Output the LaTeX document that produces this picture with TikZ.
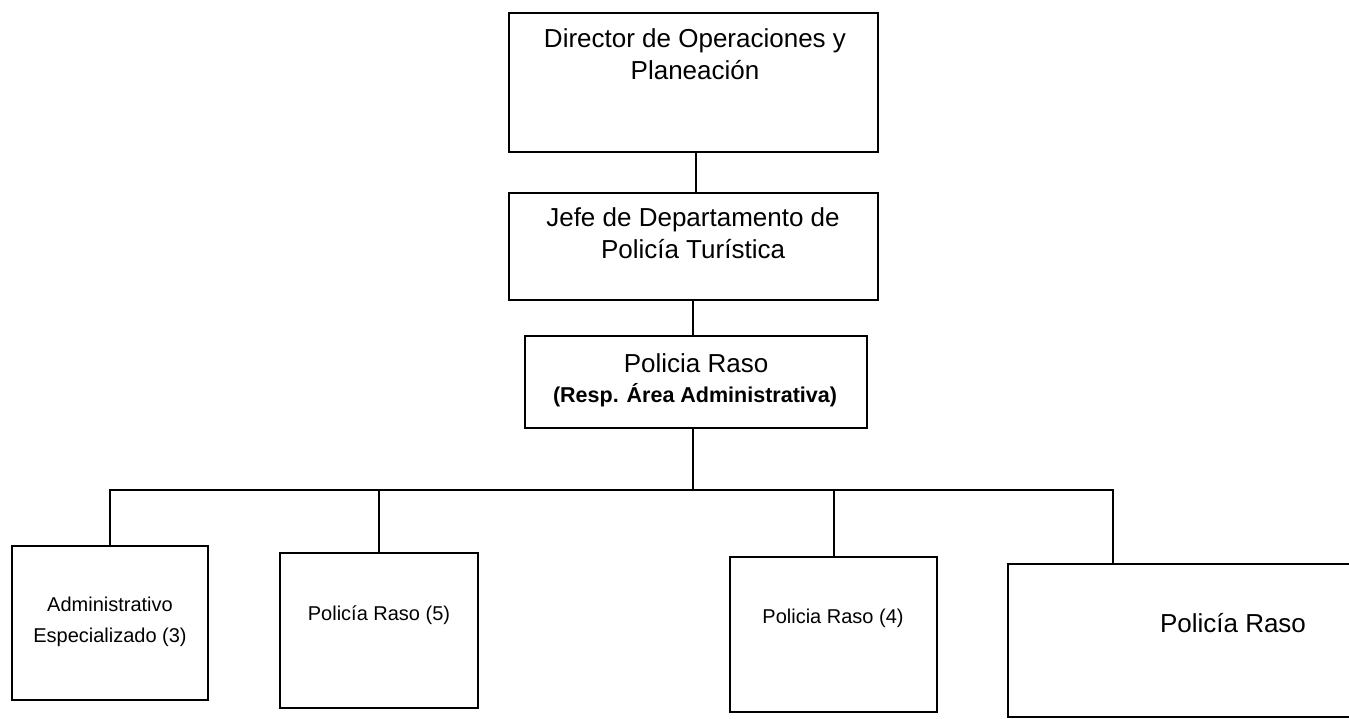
\documentclass[tikz,border=0pt]{standalone}
\usepackage{fontspec}
\setmainfont{Liberation Sans}
\begin{document}
\begin{tikzpicture}[x=1pt,y=-1pt,
  box/.style={draw=black,line width=2pt,rectangle,inner sep=0pt},
  conn/.style={draw=black,line width=2pt},
  big/.style={font=\fontsize{26}{32}\selectfont,align=center,inner sep=0pt},
  small/.style={font=\fontsize{20}{31}\selectfont,align=center,inner sep=0pt}]
\useasboundingbox (0,0) rectangle (1349,719);
\clip (0,0) rectangle (1349,719);
\fill[white] (0,0) rectangle (1349,719);
% boxes
\node[box,minimum width=369pt,minimum height=139pt] (dir) at (693.5,82.5) {};
\node[box,minimum width=369pt,minimum height=107pt] (jefe) at (693.5,246.5) {};
\node[box,minimum width=342pt,minimum height=92pt] (resp) at (696,382) {};
\node[box,minimum width=196pt,minimum height=154pt] (adm) at (110,623) {};
\node[box,minimum width=198pt,minimum height=155pt] (p5) at (379,630.5) {};
\node[box,minimum width=207pt,minimum height=155pt] (p4) at (833.5,634.5) {};
\node[box,minimum width=450pt,minimum height=153pt] (p1) at (1233,640.5) {};
% texts
\node[big] (tdir) at (695,54) {Director de Operaciones y\\Planeación};
\node[big] (tjefe) at (693,233) {Jefe de Departamento de\\Policía Turística};
\node[big,anchor=base] (tresp1) at (696,372) {Policia Raso};
\node[inner sep=0pt,anchor=base,font=\bfseries\fontsize{21.5}{26}\selectfont] (tresp2) at (695,402) {(Resp. Área Administrativa)};
\node[small] (tadm) at (110,622) {Administrativo\\Especializado (3)};
\node[small,anchor=base] (tp5) at (379,620) {Policía Raso (5)};
\node[small,anchor=base] (tp4) at (833,623) {Policia Raso (4)};
\node[big,anchor=base] (tp1) at (1233,632) {Policía Raso};
% connector points
\coordinate (a) at (696,0);
\coordinate (bus) at (693,490);
\coordinate (busL) at (110,490);
\coordinate (busR) at (1113,490);
\coordinate (p1top) at (1113,564);
\draw[conn] (dir.south -| a) -- (jefe.north -| a);
\draw[conn] (jefe.south -| bus) -- (resp.north -| bus);
\draw[conn] (resp.south -| bus) -- (bus);
\draw[conn] (adm.north) -- (busL) -- (busR) -- (p1top);
\draw[conn] (p5.north) -- (p5.north |- bus);
\draw[conn] (p4.north) -- (p4.north |- bus);
\end{tikzpicture}
\end{document}
